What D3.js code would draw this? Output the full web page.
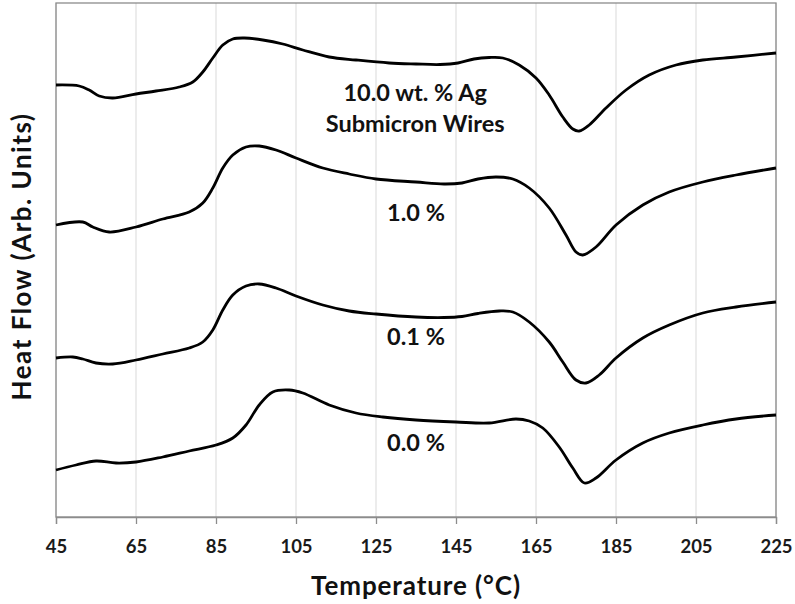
<!DOCTYPE html>
<html>
<head>
<meta charset="utf-8">
<script src="https://cdn.jsdelivr.net/npm/d3@7"></script>
<style>
  body { margin: 0; background: #fff; }
  text { font-family: Lato, "Open Sans", sans-serif; font-weight: bold; }
</style>
</head>
<body>
<div id="chart"></div>
<script>
// DSC traces: temperature (°C) and heat flow (arb. units)
const t10 = [45, 50.8, 53.3, 55.8, 59.2, 65, 70, 75.8, 79.2, 81.7, 84.2, 86.7, 89.2, 92.1, 96.7, 101.7, 106.7, 113.3, 120, 128.3, 135, 141, 145.5, 149.5, 153.3, 156.7, 160.8, 165, 168.3, 171.7, 174.2, 175.8, 178.3, 182.5, 187.5, 193.3, 200, 206.7, 215, 225];
const hf10 = [43.2, 43.1, 42.7, 42.1, 41.9, 42.3, 42.6, 43.0, 43.5, 44.5, 45.9, 47.2, 47.8, 47.9, 47.7, 47.3, 46.7, 46.0, 45.7, 45.4, 45.3, 45.25, 45.4, 45.8, 45.95, 45.9, 45.2, 43.9, 42.2, 40.0, 38.8, 38.6, 39.2, 40.9, 42.7, 44.2, 45.2, 45.7, 46.0, 46.4];

const t1 = [45, 51.7, 54.2, 58.3, 65, 71.7, 78.3, 81.7, 84.2, 86.7, 89.2, 92.5, 95.8, 100, 105, 111.7, 118.3, 125, 135, 142, 146.5, 150.5, 155, 159.2, 163.3, 168.3, 172.5, 175, 176.7, 180, 185, 191.7, 198.3, 206.7, 215, 225];
const hf1 = [29.2, 29.5, 29.0, 28.5, 29.0, 29.8, 30.5, 31.4, 32.9, 34.9, 36.2, 37.0, 37.1, 36.7, 35.9, 34.9, 34.3, 33.8, 33.5, 33.3, 33.4, 33.8, 34.0, 33.8, 32.9, 30.9, 28.2, 26.5, 26.2, 27.0, 29.2, 31.2, 32.5, 33.5, 34.2, 34.9];

const t01 = [45, 49.2, 51.7, 55, 59.2, 65, 71.7, 78.3, 81.7, 84.2, 86.7, 89.2, 92.5, 95.8, 100, 105, 111.7, 118.3, 125, 135, 142, 146.5, 150.5, 155.8, 159.2, 163.3, 168.3, 171.7, 175, 177.5, 180.8, 185, 191.7, 198.3, 206.7, 215, 225];
const hf01 = [15.9, 16.0, 15.8, 15.4, 15.3, 15.7, 16.3, 16.9, 17.5, 18.7, 20.7, 22.2, 23.1, 23.3, 22.9, 22.1, 21.2, 20.6, 20.3, 20.0, 19.95, 20.05, 20.35, 20.6, 20.5, 19.5, 17.5, 15.5, 13.7, 13.4, 14.2, 15.9, 17.9, 19.2, 20.4, 21.0, 21.5];

const t0 = [45, 50, 55, 60, 65, 71.7, 78.3, 85, 89.2, 92.5, 95.8, 99.2, 103.3, 106.7, 113.3, 120, 126.7, 135, 145, 153.3, 160, 163.3, 166.7, 170.8, 174.2, 177.1, 180, 185, 191.7, 198.3, 206.7, 215, 225];
const hf0 = [4.7, 5.2, 5.6, 5.4, 5.5, 6.0, 6.6, 7.2, 7.9, 9.2, 11.2, 12.5, 12.7, 12.4, 11.2, 10.4, 10.0, 9.7, 9.5, 9.4, 9.8, 9.6, 8.9, 7.0, 4.9, 3.4, 3.9, 5.7, 7.4, 8.4, 9.2, 9.8, 10.2];

const xTicks = [45, 65, 85, 105, 125, 145, 165, 185, 205, 225];

// curve labels, placed in data coordinates (temperature, heat flow)
const labelText = ["10.0 wt. % Ag", "Submicron Wires", "1.0 %", "0.1 %", "0.0 %"];
const labelT = [134.8, 134.8, 135, 135, 135];
const labelHF = [41.6, 38.5, 29.6, 17.2, 6.6];

const margin = { top: 3, right: 19, bottom: 87, left: 56 };
const width = 795 - margin.left - margin.right;
const height = 604 - margin.top - margin.bottom;

const svg = d3.select("#chart")
  .append("svg")
  .attr("width", 795)
  .attr("height", 604)
  .append("g")
  .attr("transform", `translate(${margin.left},${margin.top})`);

const x = d3.scaleLinear().domain([45, 225]).range([0, width]);
const y = d3.scaleLinear().domain([0, 51.4]).range([height, 0]);

// vertical gridlines
svg.append("g")
  .selectAll("line")
  .data(xTicks)
  .join("line")
  .attr("x1", d => x(d)).attr("x2", d => x(d))
  .attr("y1", 0).attr("y2", height)
  .attr("stroke", "#e0e0e0")
  .attr("stroke-width", 1.2);

// frame
svg.append("rect")
  .attr("width", width)
  .attr("height", height)
  .attr("fill", "none")
  .attr("stroke", "#8c8c8c")
  .attr("stroke-width", 1.3);

// bottom axis
const xAxis = svg.append("g")
  .attr("transform", `translate(0,${height})`)
  .call(d3.axisBottom(x).tickValues(xTicks).tickSize(7).tickPadding(16));
xAxis.select(".domain").attr("stroke", "#8c8c8c").attr("stroke-width", 1.3);
xAxis.selectAll(".tick line").attr("stroke", "#8c8c8c").attr("stroke-width", 1.3);
xAxis.selectAll("text")
  .attr("fill", "#1a1a1a")
  .style("font-size", "18.5px");

// traces
const line = d3.line()
  .x(d => x(d[0]))
  .y(d => y(d[1]))
  .curve(d3.curveCatmullRom.alpha(0.5));

const series = [[t10, hf10], [t1, hf1], [t01, hf01], [t0, hf0]];
svg.selectAll(".trace")
  .data(series)
  .join("path")
  .attr("class", "trace")
  .attr("d", s => line(d3.zip(s[0], s[1])))
  .attr("fill", "none")
  .attr("stroke", "#000")
  .attr("stroke-width", 2.8)
  .attr("stroke-linejoin", "round");

// labels
svg.selectAll(".lbl")
  .data(labelText)
  .join("text")
  .attr("class", "lbl")
  .attr("x", (d, i) => x(labelT[i]))
  .attr("y", (d, i) => y(labelHF[i]))
  .attr("text-anchor", "middle")
  .attr("fill", "#111")
  .style("font-size", "23.5px")
  .text(d => d);

// axis titles
svg.append("text")
  .attr("x", 416 - margin.left)
  .attr("y", height + 78)
  .attr("text-anchor", "middle")
  .attr("fill", "#111")
  .style("font-size", "26px")
  .style("letter-spacing", "0.9px")
  .text("Temperature (°C)");

svg.append("text")
  .attr("transform", `translate(${-25},${256.5 - margin.top}) rotate(-90)`)
  .attr("text-anchor", "middle")
  .attr("fill", "#111")
  .style("font-size", "26px")
  .style("letter-spacing", "1.5px")
  .text("Heat Flow (Arb. Units)");
</script>
</body>
</html>
